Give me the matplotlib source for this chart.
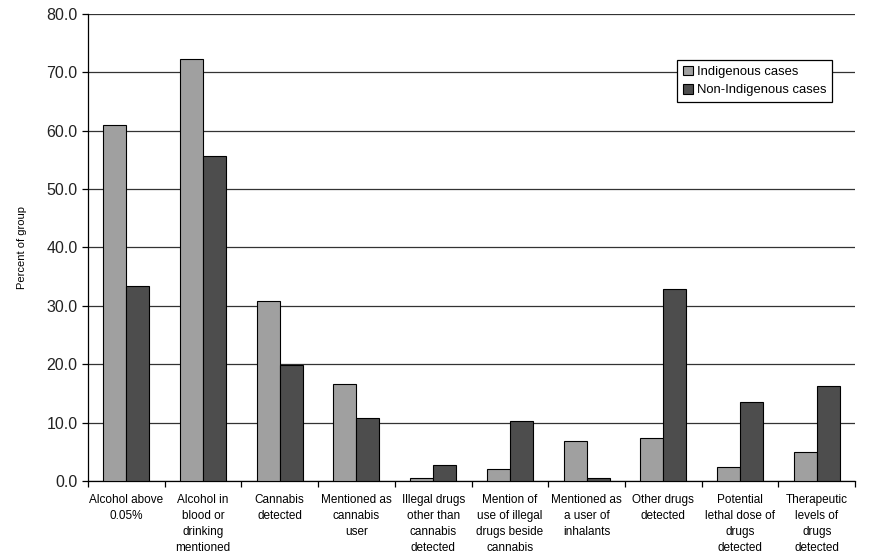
import matplotlib
matplotlib.use("Agg")
import matplotlib.pyplot as plt
import numpy as np

categories = [
    "Alcohol above\n0.05%",
    "Alcohol in\nblood or\ndrinking\nmentioned",
    "Cannabis\ndetected",
    "Mentioned as\ncannabis\nuser",
    "Illegal drugs\nother than\ncannabis\ndetected",
    "Mention of\nuse of illegal\ndrugs beside\ncannabis",
    "Mentioned as\na user of\ninhalants",
    "Other drugs\ndetected",
    "Potential\nlethal dose of\ndrugs\ndetected",
    "Therapeutic\nlevels of\ndrugs\ndetected",
]
indigenous = [61.0, 72.3, 30.8, 16.6, 0.5, 2.0, 6.8, 7.4, 2.4, 5.0]
non_indigenous = [33.4, 55.7, 19.9, 10.8, 2.7, 10.3, 0.5, 32.9, 13.5, 16.3]
series_names = ["Indigenous cases", "Non-Indigenous cases"]
y_ticks = [0, 10, 20, 30, 40, 50, 60, 70, 80]

plt.rcParams['font.family'] = ['Liberation Sans', 'DejaVu Sans']

fig = plt.figure(figsize=(8.7, 5.59), dpi=100)
ax = fig.add_axes([0.101, 0.1395, 0.882, 0.8355])

x = np.arange(len(categories))
w = 0.3
ax.bar(x - w/2, indigenous, w, color="#a0a0a0", edgecolor="black", linewidth=0.8,
       label=series_names[0], zorder=3)
ax.bar(x + w/2, non_indigenous, w, color="#4d4d4d", edgecolor="black", linewidth=0.8,
       label=series_names[1], zorder=3)

ax.set_xlim(-0.5, len(categories) - 0.5)
ax.set_ylim(0, 80)
ax.set_yticks(y_ticks)
ax.set_yticklabels([f"{v:.1f}" for v in y_ticks], fontsize=11.5, color="#222222")
ax.yaxis.grid(True, color="#333333", linewidth=0.9, zorder=0)
ax.set_axisbelow(True)

ax.set_xticks(x)
ax.set_xticklabels(categories, fontsize=8.5, linespacing=1.48)
ax.tick_params(axis='x', which='major', length=0, pad=9)
ax.set_xticks(np.arange(-0.5, len(categories), 1), minor=True)
ax.tick_params(axis='x', which='minor', length=4, direction='out', width=0.9)
ax.tick_params(axis='y', length=4, direction='out', width=0.9)

for s in ["top", "right"]:
    ax.spines[s].set_visible(False)
ax.spines["left"].set_linewidth(0.9)
ax.spines["bottom"].set_linewidth(0.9)

ax.set_ylabel("Percent of group", fontsize=8, labelpad=14)

leg = ax.legend(loc="upper right", bbox_to_anchor=(0.970, 0.9015), fontsize=9.4,
                frameon=True, fancybox=False, edgecolor="black", framealpha=1,
                handlelength=0.75, handleheight=0.75, handletextpad=0.3,
                borderpad=0.45, labelspacing=0.45, borderaxespad=0)
leg.get_frame().set_linewidth(0.9)

fig.savefig("out.png", dpi=100)
